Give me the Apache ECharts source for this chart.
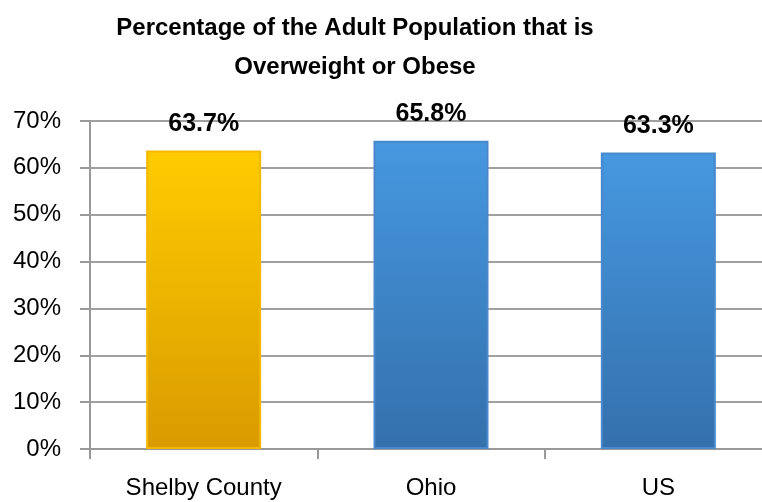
<!DOCTYPE html>
<html>
<head>
<meta charset="utf-8">
<script src="https://cdn.jsdelivr.net/npm/echarts@6/dist/echarts.min.js"></script>
<style>
  html, body { margin: 0; padding: 0; background: #fff; }
  #chart { width: 762px; height: 502px; }
</style>
</head>
<body>
<div id="chart"></div>
<script>
const categories = ["Shelby County", "Ohio", "US"]
const values = [63.7, 65.8, 63.3]
const yTicks = [0, 10, 20, 30, 40, 50, 60, 70]

// bar fills: [top, bottom, border]
const barColors = [
  ["#ffcc00", "#d99a00", "#f5b800"],
  ["#4698e0", "#3470ac", "#4a88cc"],
  ["#4698e0", "#3470ac", "#4a88cc"]
]

const chart = echarts.init(document.getElementById("chart"))

chart.setOption({
  animation: false,
  title: {
    text: "Percentage of the Adult Population that is\nOverweight or Obese",
    left: 350,
    top: 4,
    textAlign: "center",
    textStyle: {
      fontFamily: "Liberation Sans",
      fontWeight: "bold",
      fontSize: 24,
      lineHeight: 39,
      color: "#000"
    }
  },
  grid: {
    left: 90,
    width: 682,
    top: 121,
    bottom: 53,
    outerBoundsMode: "none"
  },
  xAxis: {
    type: "category",
    data: categories,
    axisLine: { lineStyle: { color: "#999", width: 2 } },
    axisTick: { show: true, length: 10, lineStyle: { color: "#999", width: 2 } },
    axisLabel: {
      margin: 27,
      fontFamily: "Liberation Sans",
      fontSize: 24,
      color: "#000"
    }
  },
  yAxis: {
    type: "value",
    min: 0,
    max: 70,
    interval: 10,
    axisLine: { show: true, lineStyle: { color: "#999", width: 2 } },
    axisTick: { show: true, length: 10, lineStyle: { color: "#999", width: 2 } },
    splitLine: { lineStyle: { color: "#a0a0a0", width: 2 } },
    axisLabel: {
      margin: 29,
      fontFamily: "Liberation Sans",
      fontSize: 24,
      color: "#000",
      formatter: v => (yTicks.includes(v) ? v + "%" : "")
    }
  },
  series: [
    {
      type: "bar",
      barWidth: 115,
      data: values.map((v, i) => ({
        value: v,
        itemStyle: {
          color: new echarts.graphic.LinearGradient(0, 0, 0, 1, [
            { offset: 0, color: barColors[i][0] },
            { offset: 1, color: barColors[i][1] }
          ]),
          borderColor: barColors[i][2],
          borderWidth: 2
        }
      })),
      label: {
        show: true,
        position: "top",
        distance: 14,
        formatter: p => p.value.toFixed(1) + "%",
        fontFamily: "Liberation Sans",
        fontWeight: "bold",
        fontSize: 25,
        color: "#000"
      }
    }
  ]
})
</script>
</body>
</html>
